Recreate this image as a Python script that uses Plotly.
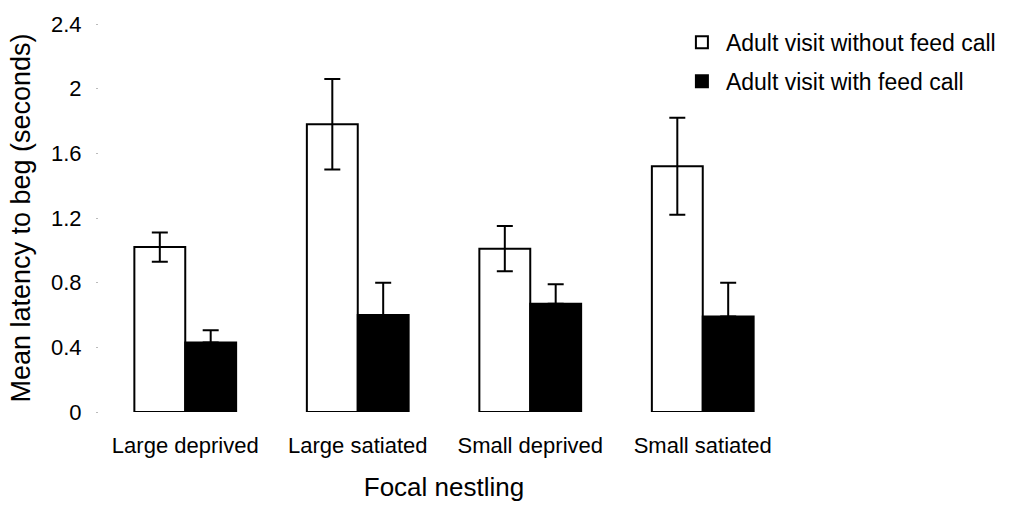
import plotly.graph_objects as go

# Focal nestling categories and mean begging latencies (seconds)
categories = ["Large deprived", "Large satiated", "Small deprived", "Small satiated"]
without_call = [1.02, 1.78, 1.01, 1.52]
without_call_err = [0.09, 0.28, 0.14, 0.30]
with_call = [0.43, 0.60, 0.67, 0.59]
with_call_err = [0.075, 0.20, 0.12, 0.21]

y_ticks = [0, 0.4, 0.8, 1.2, 1.6, 2.0, 2.4]
y_tick_text = ["0", "0.4", "0.8", "1.2", "1.6", "2", "2.4"]

FONT = "Liberation Sans, Arial, sans-serif"

fig = go.Figure()
fig.add_trace(go.Bar(
    name="Adult visit without feed call",
    x=categories, y=without_call,
    marker=dict(color="white", line=dict(color="black", width=2)),
    error_y=dict(type="data", array=without_call_err, symmetric=True,
                 color="black", thickness=2, width=8),
    legendgroup="a",
))
fig.add_trace(go.Bar(
    name="Adult visit with feed call",
    x=categories, y=with_call,
    marker=dict(color="black", line=dict(color="black", width=2)),
    error_y=dict(type="data", array=with_call_err,
                 arrayminus=[0] * len(with_call_err),
                 symmetric=False, color="black", thickness=2, width=8),
    legendgroup="b",
))

fig.update_layout(
    width=1013, height=508,
    margin=dict(l=99, r=220, t=15, b=95),
    paper_bgcolor="white", plot_bgcolor="white",
    font=dict(family=FONT, size=22, color="black"),
    barmode="group", bargap=0.41, bargroupgap=0,
    showlegend=True,
    legend=dict(x=0.839, y=1.008, xanchor="left", yanchor="top",
                font=dict(size=23, family=FONT), bgcolor="rgba(0,0,0,0)",
                traceorder="grouped", tracegroupgap=6, itemwidth=38),
    xaxis=dict(
        range=[-0.5, 3.5], showline=False, showgrid=False, zeroline=False,
        ticks="", tickfont=dict(size=22), ticklabelstandoff=18,
        title=dict(text="Focal nestling", font=dict(size=26), standoff=20),
    ),
    yaxis=dict(
        range=[0, 2.4], tickvals=y_ticks, ticktext=y_tick_text,
        showline=False, showgrid=False, zeroline=False,
        ticks="outside", ticklen=2, tickcolor="#bbbbbb", tickwidth=1,
        tickfont=dict(size=22), ticklabelstandoff=10,
        title=dict(text="Mean latency to beg (seconds)", font=dict(size=27), standoff=12),
    ),
)

fig.write_html("out.html")
